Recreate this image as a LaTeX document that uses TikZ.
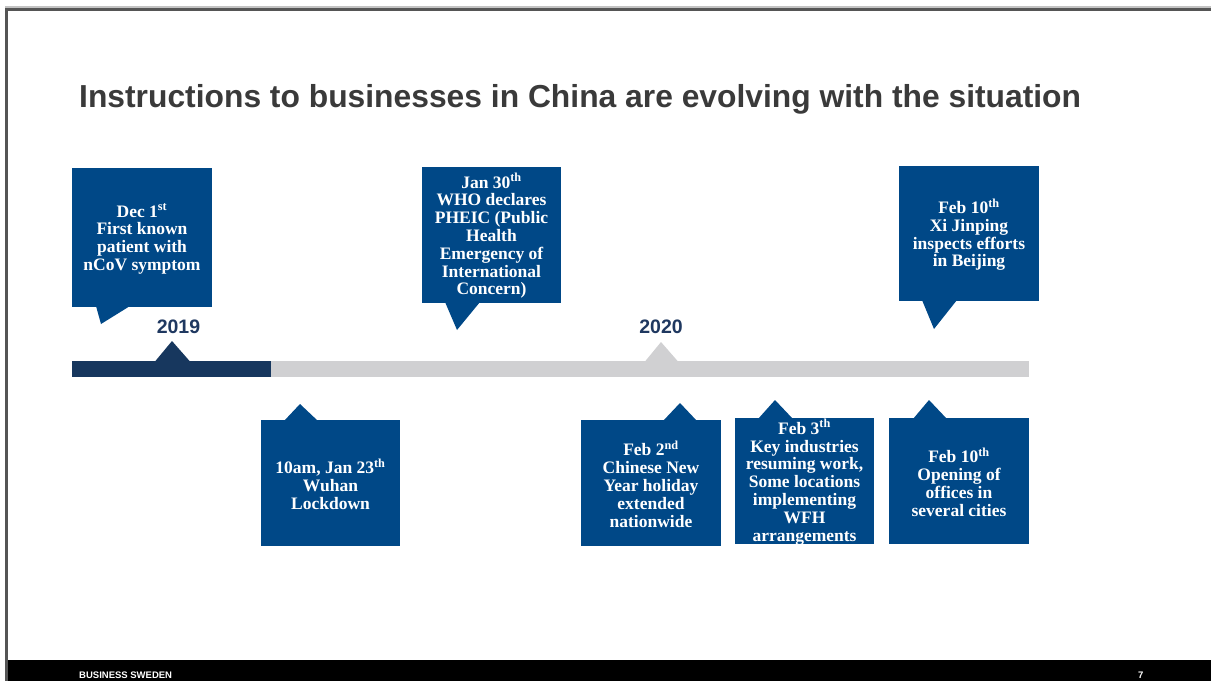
\documentclass[tikz,border=0pt]{standalone}
\usepackage{fontspec}
\setmainfont{Liberation Serif}
\newfontfamily\sansf{Liberation Sans}
\definecolor{boxblue}{RGB}{0,72,135}
\definecolor{darkbar}{RGB}{23,55,94}
\definecolor{greybar}{RGB}{208,208,210}
\definecolor{yearcol}{RGB}{31,56,96}
\definecolor{titlegray}{RGB}{58,58,58}
\definecolor{framegray}{RGB}{85,85,85}
\definecolor{framelight}{RGB}{195,195,195}
\newcommand\evtext{\fontsize{17.5}{17.8}\selectfont\bfseries}
\newcommand\evsup[1]{\smash{\textsuperscript{#1}}}
\begin{document}
\begin{tikzpicture}[x=1pt,y=-1pt,
  evbox/.style={fill=boxblue, inner sep=0pt},
  evlabel/.style={text=white, font=\evtext, align=center, inner sep=0pt, yshift=-2.5pt},
  tailfill/.style={fill=boxblue},
  yearlabel/.style={anchor=base, inner sep=0pt, text=yearcol, font=\sansf\bfseries\fontsize{19.5}{22}\selectfont},
  footlabel/.style={anchor=base west, inner sep=0pt, text=white, font=\sansf\bfseries\fontsize{9.5}{11}\selectfont}]
\useasboundingbox (0,0) rectangle (1211,681);
\fill[white] (0,0) rectangle (1211,681);
% frame
\fill[framelight] (5,6) rectangle (1211,8);
\fill[framegray] (5,8) rectangle (1211,11);
\fill[framegray] (5,8) rectangle (8,681);
% footer
\fill[black] (8,660) rectangle (1211,681);
\node[footlabel] (foot) at (79,678) {BUSINESS SWEDEN};
\node[footlabel] (page) at (1138,678) {7};
% title
\node[anchor=base west, inner sep=0pt, text=titlegray, font=\sansf\bfseries\fontsize{31.8}{36}\selectfont] (title) at (79,107) {Instructions to businesses in China are evolving with the situation};
% timeline
\fill[darkbar] (72,361) rectangle (271,377);
\fill[greybar] (271,361) rectangle (1029,377);
\fill[darkbar] (155,361.5) -- (172,341) -- (190,361.5) -- cycle;
\fill[greybar] (645,361.5) -- (661,342) -- (678,361.5) -- cycle;
\node[yearlabel] (y2019) at (178.5,333) {2019};
\node[yearlabel] (y2020) at (661,333) {2020};
% top boxes
\node[evbox, minimum width=140pt, minimum height=139pt] (b1) at (142,237.5) {};
\node[evlabel] (t1) at (b1.center) {Dec 1\evsup{st}\\First known\\patient with\\nCoV symptom};
\fill[tailfill] (96,306) -- (101,324) -- (130,306) -- cycle;
\node[evbox, minimum width=139pt, minimum height=136pt] (b2) at (491.5,235) {};
\node[evlabel] (t2) at (b2.center) {Jan 30\evsup{th}\\WHO declares\\PHEIC (Public\\Health\\Emergency of\\International\\Concern)};
\fill[tailfill] (445,302) -- (457,330) -- (480,302) -- cycle;
\node[evbox, minimum width=140pt, minimum height=135pt] (b3) at (969,233.5) {};
\node[evlabel] (t3) at (b3.center) {Feb 10\evsup{th}\\Xi Jinping\\inspects efforts\\in Beijing};
\fill[tailfill] (922,300) -- (934,329) -- (957,300) -- cycle;
% bottom boxes
\node[evbox, minimum width=139pt, minimum height=126pt] (b4) at (330.5,483) {};
\node[evlabel] (t4) at (b4.center) {10am, Jan 23\evsup{th}\\Wuhan\\Lockdown};
\fill[tailfill] (284,421) -- (300,404) -- (318,421) -- cycle;
\node[evbox, minimum width=140pt, minimum height=126pt] (b5) at (651,483) {};
\node[evlabel] (t5) at (b5.center) {Feb 2\evsup{nd}\\Chinese New\\Year holiday\\extended\\nationwide};
\fill[tailfill] (663,421) -- (680,403) -- (697,421) -- cycle;
\node[evbox, minimum width=139pt, minimum height=126pt] (b6) at (804.5,481) {};
\node[evlabel] (t6) at (b6.center) {Feb 3\evsup{th}\\Key industries\\resuming work,\\Some locations\\implementing\\WFH\\arrangements};
\fill[tailfill] (758,419) -- (775,400) -- (793,419) -- cycle;
\node[evbox, minimum width=140pt, minimum height=126pt] (b7) at (959,481) {};
\node[evlabel] (t7) at (b7.center) {Feb 10\evsup{th}\\Opening of\\offices in\\several cities};
\fill[tailfill] (913,419) -- (929,400) -- (947,419) -- cycle;
\end{tikzpicture}
\end{document}
